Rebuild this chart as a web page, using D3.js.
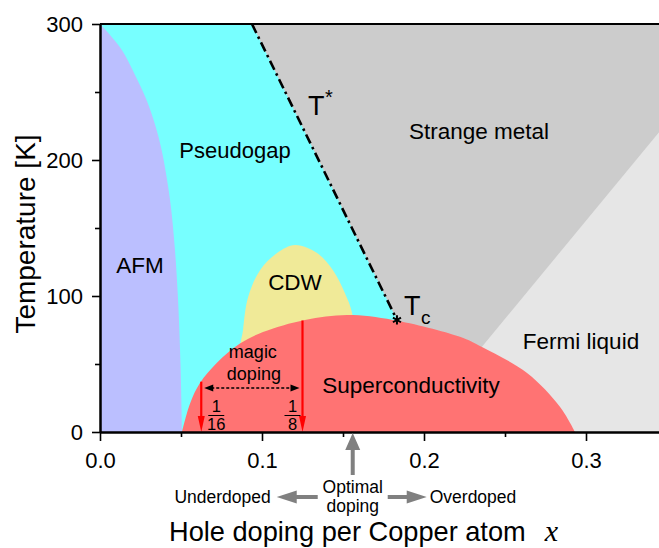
<!DOCTYPE html>
<html>
<head>
<meta charset="utf-8">
<script src="https://cdn.jsdelivr.net/npm/d3@7"></script>
<style>
  html, body { margin: 0; padding: 0; background: #fff; }
  svg { display: block; font-family: "Liberation Sans", Arial, sans-serif; }
</style>
</head>
<body>
<svg id="chart" width="659" height="548"></svg>
<script>
// Cuprate phase diagram: doping x vs temperature T (K)
const xTicks = [0.0, 0.1, 0.2, 0.3];
const xMinorTicks = [0.05, 0.15, 0.25];
const yTicks = [0, 100, 200, 300];
const yMinorTicks = [50, 150, 250];

// Néel (AFM) boundary, from T = 300 K down to T = 0
const afmBoundary = [[0, 300], [0.0062, 292], [0.0134, 281], [0.0210, 264], [0.0288, 244],
  [0.0340, 226], [0.0381, 207], [0.0432, 171], [0.0462, 135], [0.0481, 99],
  [0.0497, 50], [0.0506, 0]];

// Superconducting dome Tc(x)
const domeBoundary = [[0.0506, 0], [0.0556, 21], [0.0617, 36], [0.0722, 51], [0.0864, 65],
  [0.1006, 73.5], [0.1265, 82.4], [0.1525, 86], [0.1809, 82.4], [0.2222, 70],
  [0.2358, 62.5], [0.2636, 43.4], [0.284, 18.4], [0.2932, 0]];

// Charge density wave region outline
const cdwBoundary = [[0.0883, 75], [0.0914, 99], [0.0988, 119], [0.1093, 131.6], [0.1204, 137.5],
  [0.134, 131.6], [0.1438, 119], [0.1512, 102], [0.1556, 87.5], [0.157, 65],
  [0.14, 45], [0.10, 45], [0.087, 58]];

// Pseudogap temperature T* (straight line ending at Tc)
const tStarLine = [[0.0938, 300], [0.1833, 82.4]];
const tcPoint = [0.1833, 82.4];

// Crossover between strange metal and Fermi liquid
const fermiBoundary = [[0.1924, 0], [0.36, 242]];

// Magic dopings 1/16 and 1/8, with Tc where the arrows start
const magicDoping = [1 / 16, 1 / 8];
const magicDen = ["16", "8"];
const magicTop = [37, 82];
const optimalDoping = 0.156;

const svg = d3.select("#chart");
const x = d3.scaleLinear().domain([0, 0.35]).range([100, 667]);
const y = d3.scaleLinear().domain([0, 300]).range([432, 24]);

svg.append("defs").append("clipPath").attr("id", "plot")
  .append("rect").attr("x", x(0)).attr("y", y(300))
  .attr("width", x(0.35) - x(0)).attr("height", y(0) - y(300));

const plot = svg.append("g").attr("clip-path", "url(#plot)");
const line = d3.line().x(d => x(d[0])).y(d => y(d[1]));
const smooth = d3.line().x(d => x(d[0])).y(d => y(d[1])).curve(d3.curveCatmullRom);

// strange metal background
plot.append("rect").attr("x", x(0)).attr("y", y(300))
  .attr("width", x(0.35) - x(0)).attr("height", y(0) - y(300)).attr("fill", "#cccccc");

// Fermi liquid
plot.append("path")
  .attr("d", line([...fermiBoundary, [0.36, 0]]) + "Z")
  .attr("fill", "#e6e6e6");

// pseudogap, left of T*
plot.append("path")
  .attr("d", line([[0, 0], [0, 300], ...tStarLine, [0.19, 0]]) + "Z")
  .attr("fill", "#77ffff");

// AFM
plot.append("path")
  .attr("d", smooth(afmBoundary) + "L" + x(0) + "," + y(0) + "Z")
  .attr("fill", "#bbbfff");

// CDW
plot.append("path")
  .attr("d", d3.line().x(d => x(d[0])).y(d => y(d[1])).curve(d3.curveCatmullRomClosed)(cdwBoundary))
  .attr("fill", "#f0ea98");

// superconducting dome
plot.append("path")
  .attr("d", smooth(domeBoundary) + "Z")
  .attr("fill", "#ff7373");

// T* line
plot.append("path").attr("d", line(tStarLine))
  .attr("fill", "none").attr("stroke", "#000").attr("stroke-width", 2.6)
  .attr("stroke-dasharray", "10,4,2.5,4");

// Tc marker
plot.append("path")
  .attr("transform", `translate(${x(tcPoint[0])},${y(tcPoint[1])})`)
  .attr("d", d3.symbol(d3.symbolAsterisk, 60)())
  .attr("fill", "none").attr("stroke", "#000").attr("stroke-width", 2);

// magic doping arrows
magicDoping.forEach((m, i) => {
  const px = x(m);
  plot.append("line").attr("x1", px).attr("x2", px)
    .attr("y1", y(magicTop[i])).attr("y2", y(0) - 12)
    .attr("stroke", "#ff0000").attr("stroke-width", 2.2);
  plot.append("path")
    .attr("d", `M${px - 3.5},${y(0) - 16}L${px + 3.5},${y(0) - 16}L${px},${y(0)}Z`)
    .attr("fill", "#ff0000");
});

// dashed double arrow between the magic dopings
const ya = y(32.4);
const xa1 = x(magicDoping[0]) + 3, xa2 = x(magicDoping[1]) - 3;
plot.append("line").attr("x1", xa1 + 7).attr("x2", xa2 - 7).attr("y1", ya).attr("y2", ya)
  .attr("stroke", "#000").attr("stroke-width", 1.4).attr("stroke-dasharray", "3,2");
plot.append("path").attr("d", `M${xa1},${ya}L${xa1 + 9},${ya - 3.5}L${xa1 + 9},${ya + 3.5}Z`).attr("fill", "#000");
plot.append("path").attr("d", `M${xa2},${ya}L${xa2 - 9},${ya - 3.5}L${xa2 - 9},${ya + 3.5}Z`).attr("fill", "#000");

// region labels
const label = (text, xv, yv, size, anchor = "middle") =>
  svg.append("text").attr("x", xv).attr("y", yv).attr("font-size", size)
    .attr("text-anchor", anchor).attr("fill", "#000").text(text);

label("Strange metal", 479, 139, 22.5);
label("Pseudogap", 235, 158, 22);
label("AFM", 140, 273, 22.5);
label("CDW", 295, 290, 22.5);
label("Superconductivity", 411, 393, 22.5);
label("Fermi liquid", 581, 349, 22.5);
label("magic", (x(magicDoping[0]) + x(magicDoping[1])) / 2 + 1, 358, 18);
label("doping", (x(magicDoping[0]) + x(magicDoping[1])) / 2 + 2, 380, 18);

// T* and Tc labels
label("T", 308, 115, 27, "start");
label("*", 325, 104, 20, "start");
label("T", 404, 315, 27, "start");
label("c", 421, 324, 19, "start");

// fractions under the magic doping arrows
const fracOffset = [15, -10];
magicDoping.forEach((m, i) => {
  const cx = x(m) + fracOffset[i];
  label("1", cx, 412, 16.5);
  svg.append("line").attr("x1", cx - 8).attr("x2", cx + 8).attr("y1", 415.5).attr("y2", 415.5)
    .attr("stroke", "#000").attr("stroke-width", 1);
  label(magicDen[i], cx, 430, 16.5);
});

// axes
const axisStyle = g => {
  g.select(".domain").attr("stroke", "#000").attr("stroke-width", 2);
  g.selectAll(".tick line").attr("stroke", "#000").attr("stroke-width", 1.6);
  g.selectAll("text").attr("font-size", 22).attr("fill", "#000")
    .attr("font-family", "'Liberation Sans', Arial, sans-serif");
};

svg.append("g").attr("transform", `translate(0,${y(0)})`)
  .call(d3.axisBottom(x).tickValues(xMinorTicks).tickSize(5).tickSizeOuter(0).tickFormat(""))
  .call(axisStyle);
svg.append("g").attr("transform", `translate(0,${y(0)})`)
  .call(d3.axisBottom(x).tickValues(xTicks).tickSize(9).tickSizeOuter(0).tickPadding(11)
    .tickFormat(d3.format(".1f")))
  .call(axisStyle);
svg.append("g").attr("transform", `translate(${x(0)},0)`)
  .call(d3.axisLeft(y).tickValues(yMinorTicks).tickSize(5).tickSizeOuter(0).tickFormat(""))
  .call(axisStyle);
svg.append("g").attr("transform", `translate(${x(0)},0)`)
  .call(d3.axisLeft(y).tickValues(yTicks).tickSize(8).tickSizeOuter(0).tickPadding(9))
  .call(axisStyle);

// top frame line
svg.append("line").attr("x1", x(0)).attr("x2", x(0.35)).attr("y1", y(300)).attr("y2", y(300))
  .attr("stroke", "#000").attr("stroke-width", 2);

// optimal doping arrow and doping regimes
const ox = x(optimalDoping);
const gray = "#808080";
svg.append("path")
  .attr("d", `M${ox},${y(0) + 1}L${ox + 7.5},${y(0) + 18}L${ox + 2},${y(0) + 18}L${ox + 2},${y(0) + 43}` +
    `L${ox - 2},${y(0) + 43}L${ox - 2},${y(0) + 18}L${ox - 7.5},${y(0) + 18}Z`)
  .attr("fill", gray);
const ay = 497;
svg.append("path")
  .attr("d", `M${ox - 76},${ay}L${ox - 56},${ay - 6.5}L${ox - 56},${ay - 2}L${ox - 35},${ay - 2}` +
    `L${ox - 35},${ay + 2}L${ox - 56},${ay + 2}L${ox - 56},${ay + 6.5}Z`)
  .attr("fill", gray);
svg.append("path")
  .attr("d", `M${ox + 74},${ay}L${ox + 54},${ay - 6.5}L${ox + 54},${ay - 2}L${ox + 35},${ay - 2}` +
    `L${ox + 35},${ay + 2}L${ox + 54},${ay + 2}L${ox + 54},${ay + 6.5}Z`)
  .attr("fill", gray);

label("Optimal", ox, 493, 17.5);
label("doping", ox, 512, 17.5);
label("Underdoped", ox - 82, 503, 17.5, "end");
label("Overdoped", ox + 77, 503, 17.5, "start");

// axis titles
const xt = svg.append("text").attr("x", 169).attr("y", 541).attr("font-size", 27.2).attr("fill", "#000");
xt.append("tspan").text("Hole doping per Copper atom");
xt.append("tspan").attr("dx", 19).attr("font-family", "'Liberation Serif', 'DejaVu Serif', serif")
  .attr("font-style", "italic").attr("font-size", 30).text("x");

svg.append("text").attr("transform", "translate(35,234) rotate(-90)")
  .attr("text-anchor", "middle").attr("font-size", 28).attr("fill", "#000")
  .text("Temperature [K]");
</script>
</body>
</html>
